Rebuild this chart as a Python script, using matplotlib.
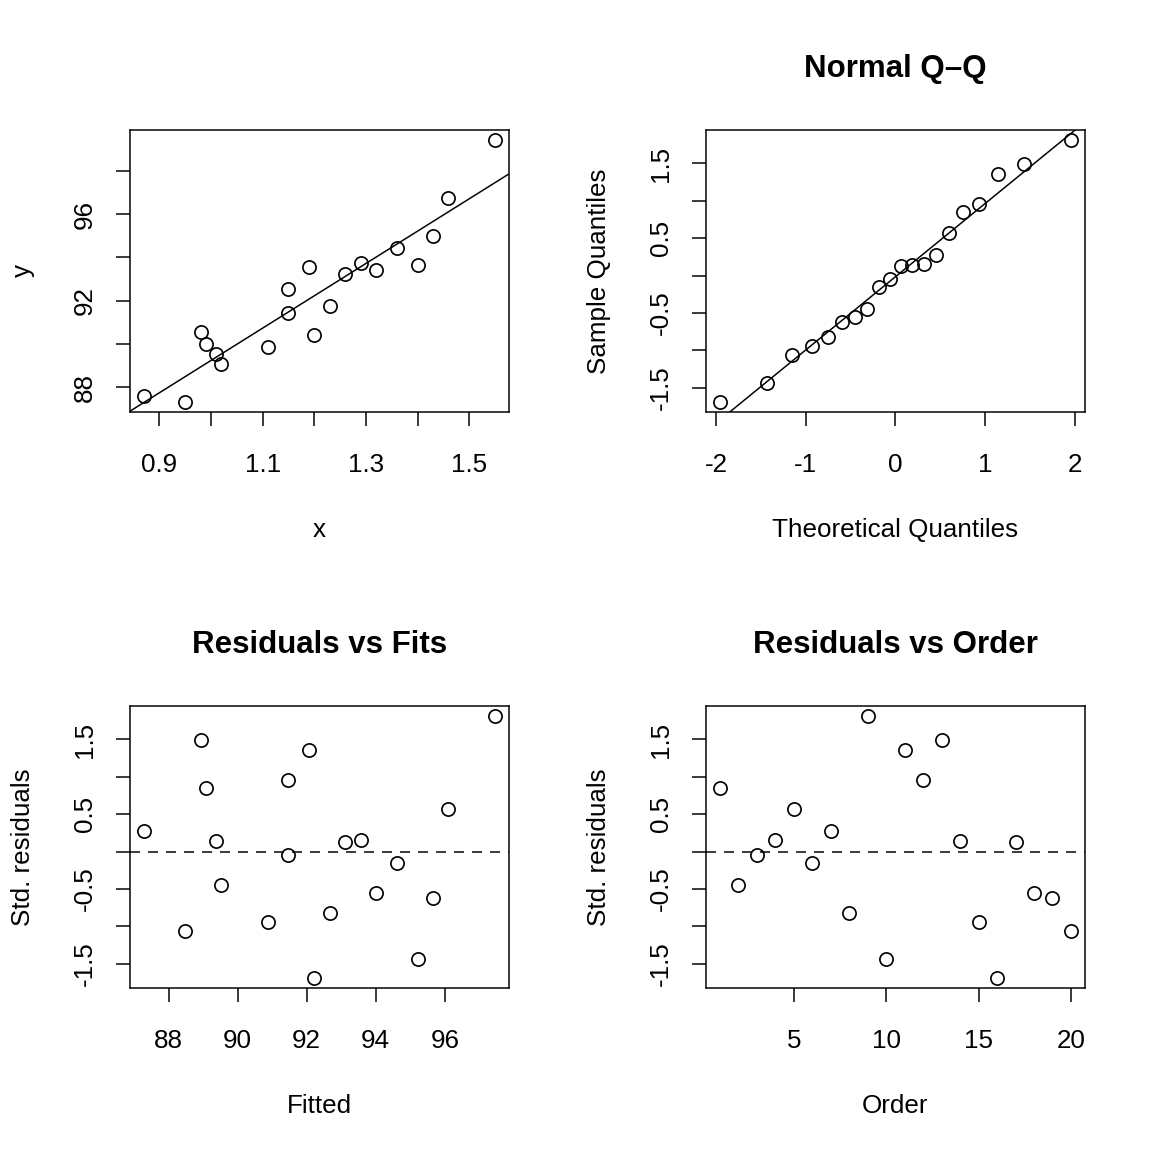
import numpy as np
import matplotlib
matplotlib.use("Agg")
import matplotlib.pyplot as plt
from statistics import NormalDist

plt.rcParams["font.family"] = ["Liberation Sans", "DejaVu Sans"]
plt.rcParams["axes.unicode_minus"] = False

# purity vs hydrocarbon level
x = np.array([0.99, 1.02, 1.15, 1.29, 1.46, 1.36, 0.87, 1.23, 1.55, 1.40,
              1.19, 1.15, 0.98, 1.01, 1.11, 1.20, 1.26, 1.32, 1.43, 0.95])
y = np.array([90.01, 89.05, 91.43, 93.74, 96.73, 94.45, 87.59, 91.77, 99.42, 93.65,
              93.54, 92.52, 90.56, 89.54, 89.85, 90.39, 93.25, 93.41, 94.98, 87.33])
order = np.arange(1, len(x) + 1)

# least squares fit, residuals scaled by the residual standard error
n = len(x)
slope, intercept = np.polyfit(x, y, 1)
fitted = intercept + slope * x
resid = y - fitted
s = np.sqrt(np.sum(resid ** 2) / (n - 2))
std_res = resid / s

# normal scores (ppoints) and qqline through quartiles
nd = NormalDist()
theo = np.array([nd.inv_cdf((i - 0.5) / n) for i in range(1, n + 1)])
sample = np.sort(std_res)
q1, q3 = np.quantile(std_res, [0.25, 0.75])
z1, z3 = nd.inv_cdf(0.25), nd.inv_cdf(0.75)
qq_slope = (q3 - q1) / (z3 - z1)
qq_int = q1 - qq_slope * z1

LW = 0.75
FS = 13
TFS = 15.6
DASH = (0, (6.7, 5.3))


def rlim(v):
    lo, hi = np.min(v), np.max(v)
    d = 0.04 * (hi - lo)
    return lo - d, hi + d


def style(ax, xticks, xlabels, yticks, ylabels):
    for sp in ax.spines.values():
        sp.set_linewidth(LW)
    ax.set_xticks(xticks)
    ax.set_xticklabels(xlabels)
    ax.set_yticks(yticks)
    ax.set_yticklabels(ylabels, rotation=90, va="center")
    ax.tick_params(direction="out", length=7, width=LW, labelsize=FS)
    ax.tick_params(axis="x", pad=13.5)
    ax.tick_params(axis="y", pad=9.5)


def pts(ax, a, b):
    ax.plot(a, b, "o", mfc="none", mec="black", ms=6.6, mew=0.85, ls="none")


fig = plt.figure(figsize=(8, 8), dpi=144)
w, hgt = 0.329, 0.245
ax1 = fig.add_axes([0.1128, 0.6424, w, hgt])
ax2 = fig.add_axes([0.6128, 0.6424, w, hgt])
ax3 = fig.add_axes([0.1128, 0.1424, w, hgt])
ax4 = fig.add_axes([0.6128, 0.1424, w, hgt])

# scatter with fitted line
pts(ax1, x, y)
ax1.set_xlim(rlim(x))
ax1.set_ylim(rlim(y))
xl = np.array(ax1.get_xlim())
ax1.plot(xl, intercept + slope * xl, color="black", lw=LW)
style(ax1, [0.9, 1.0, 1.1, 1.2, 1.3, 1.4, 1.5], ["0.9", "", "1.1", "", "1.3", "", "1.5"],
      [88, 90, 92, 94, 96, 98], ["88", "", "92", "", "96", ""])
ax1.set_xlabel("x", fontsize=FS, labelpad=20.5)
ax1.set_ylabel("y", fontsize=FS, labelpad=19)

qticks = [-1.5, -1.0, -0.5, 0.0, 0.5, 1.0, 1.5]
qlabels = ["-1.5", "", "-0.5", "", "0.5", "", "1.5"]

# normal Q-Q
pts(ax2, theo, sample)
ax2.set_xlim(rlim(theo))
ax2.set_ylim(rlim(sample))
xl = np.array(ax2.get_xlim())
ax2.plot(xl, qq_int + qq_slope * xl, color="black", lw=LW)
style(ax2, [-2, -1, 0, 1, 2], ["-2", "-1", "0", "1", "2"], qticks, qlabels)
ax2.set_title("Normal Q\u2013Q", fontsize=TFS, fontweight="bold", pad=26.5)
ax2.set_xlabel("Theoretical Quantiles", fontsize=FS, labelpad=20.5)
ax2.set_ylabel("Sample Quantiles", fontsize=FS, labelpad=19)

# residuals vs fits
pts(ax3, fitted, std_res)
ax3.set_xlim(rlim(fitted))
ax3.set_ylim(rlim(std_res))
ax3.axhline(0, color="black", lw=LW, ls=DASH)
style(ax3, [88, 90, 92, 94, 96], ["88", "90", "92", "94", "96"], qticks, qlabels)
ax3.set_title("Residuals vs Fits", fontsize=TFS, fontweight="bold", pad=26.5)
ax3.set_xlabel("Fitted", fontsize=FS, labelpad=20.5)
ax3.set_ylabel("Std. residuals", fontsize=FS, labelpad=19)

# residuals vs order
pts(ax4, order, std_res)
ax4.set_xlim(rlim(order))
ax4.set_ylim(rlim(std_res))
ax4.axhline(0, color="black", lw=LW, ls=DASH)
style(ax4, [5, 10, 15, 20], ["5", "10", "15", "20"], qticks, qlabels)
ax4.set_title("Residuals vs Order", fontsize=TFS, fontweight="bold", pad=26.5)
ax4.set_xlabel("Order", fontsize=FS, labelpad=20.5)
ax4.set_ylabel("Std. residuals", fontsize=FS, labelpad=19)

fig.savefig("out.png", dpi=144)
